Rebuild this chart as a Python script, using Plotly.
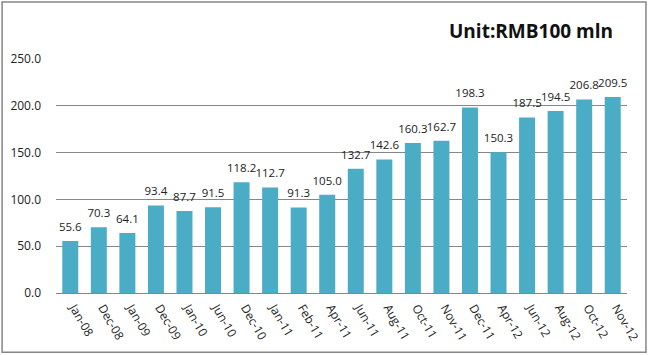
import plotly.graph_objects as go

categories = ["Jan-08", "Dec-08", "Jan-09", "Dec-09", "Jan-10", "Jun-10", "Dec-10", "Jan-11",
              "Feb-11", "Apr-11", "Jun-11", "Aug-11", "Oct-11", "Nov-11", "Dec-11", "Apr-12",
              "Jun-12", "Aug-12", "Oct-12", "Nov-12"]
values = [55.6, 70.3, 64.1, 93.4, 87.7, 91.5, 118.2, 112.7, 91.3, 105.0, 132.7, 142.6, 160.3,
          162.7, 198.3, 150.3, 187.5, 194.5, 206.8, 209.5]
y_ticks = [0, 50, 100, 150, 200, 250]

W, H = 648, 355
ml, mr, mt, mb = 55.5, 20.5, 58.5, 62
pw, ph = W - ml - mr, H - mt - mb
FONT = "Open Sans"

fig = go.Figure()
fig.add_trace(go.Bar(x=categories, y=values, marker_color="#4BACC6", width=0.56,
                     marker_line_width=0, hoverinfo="x+y"))
fig.add_trace(go.Scatter(x=categories, y=values, mode="markers+text",
                         marker=dict(size=10, opacity=0),
                         text=[f"{v:.1f}" for v in values], textposition="top center",
                         textfont=dict(size=11.5, color="#222222", family=FONT),
                         cliponaxis=False, hoverinfo="skip"))

fig.update_layout(
    width=W, height=H, margin=dict(l=ml, r=mr, t=mt, b=mb, autoexpand=False),
    paper_bgcolor="white", plot_bgcolor="white", showlegend=False,
    font=dict(family=FONT, size=12, color="#222222"),
    xaxis=dict(tickangle=60, showgrid=False, showline=True, linecolor="#868686",
               range=[-0.5, len(categories) - 0.5],
               ticks="", tickfont=dict(size=12), ticklabelstandoff=2, ticklabelshift=4,
               automargin=False),
    yaxis=dict(range=[0, 250], tickvals=y_ticks, ticktext=[f"{t:.1f}" for t in y_ticks],
               showgrid=True, gridcolor="#868686", gridwidth=1, zeroline=False,
               ticks="", tickfont=dict(size=12), ticklabelstandoff=14, automargin=False),
    shapes=[dict(type="rect", xref="paper", yref="paper",
                 x0=-(ml - 1.5) / pw, x1=1 + (mr - 1.5) / pw,
                 y0=-(mb - 2.5) / ph, y1=1 + (mt - 1.5) / ph,
                 line=dict(color="#868686", width=1.5), fillcolor="rgba(0,0,0,0)")],
    annotations=[dict(text="<b>Unit:RMB100 mln</b>", xref="paper", yref="paper",
                      x=1 + (mr - 33) / pw, y=1 + 28 / ph, xanchor="right", yanchor="middle",
                      showarrow=False, font=dict(size=19, color="#111111", family=FONT))],
)

fig.write_html("out.html", config={"displayModeBar": False},
               post_script="document.body.style.margin='0';document.body.style.overflow='hidden';")
